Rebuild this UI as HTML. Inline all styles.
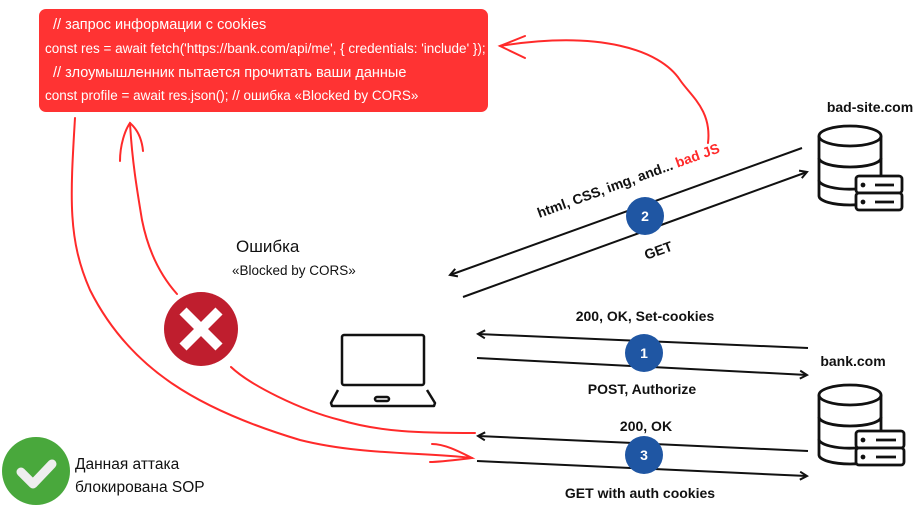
<!DOCTYPE html>
<html><head><meta charset="utf-8"><style>
html,body{margin:0;padding:0;background:#fff;}
svg{display:block;}
text{font-family:"Liberation Sans","Noto Sans CJK SC",sans-serif;}
.b{font-weight:bold;font-size:14px;fill:#111;}
</style></head><body>
<svg width="923" height="512" viewBox="0 0 923 512" xmlns="http://www.w3.org/2000/svg">
<defs>
<marker id="ah" markerWidth="10" markerHeight="10" refX="8" refY="5" orient="auto" markerUnits="userSpaceOnUse">
<path d="M1,1 L8,5 L1,9" fill="none" stroke="#111" stroke-width="2"/>
</marker>
</defs>
<rect x="39" y="9" width="449" height="103" rx="7" fill="#ff3333"/>
<g fill="#fff" font-size="13.5">
<text x="53" y="29" font-size="14.5">// запрос информации с cookies</text>
<text x="45" y="53">const res = await fetch('https://bank.com/api/me', { credentials: 'include' });</text>
<text x="53" y="77" font-size="14.5">// злоумышленник пытается прочитать ваши данные</text>
<text x="45" y="100">const profile = await res.json();  //  ошибка «Blocked by CORS»</text>
</g>
<g fill="none" stroke="#ff2a2a" stroke-width="2" stroke-linecap="round">
<path d="M708,143 C712,110 690,95 680,80 C660,50 600,30 500,46"/>
<path d="M525,36 L500,46 L525,58"/>
<path d="M75,118 C70,200 68,240 90,290 C130,370 200,410 300,440 C360,455 420,452 472,458"/>
<path d="M432,444 C445,444 460,452 472,458 C455,460 440,462 430,462"/>
<path d="M177,294 C160,275 148,250 142,220 C137,190 132,160 130,123"/>
<path d="M120,161 C120,145 125,130 130,123 C138,130 142,140 143,151"/>
<path d="M231,367 C250,385 300,410 340,420 C380,432 420,433 475,433"/>
</g>
<circle cx="201" cy="329" r="37" fill="#bf1e2e"/>
<path d="M183,311 L219,347 M219,311 L183,347" stroke="#fff" stroke-width="10"/>
<circle cx="36" cy="471" r="34" fill="#49a83c"/>
<path d="M21,472 L33,484 L52,464" fill="none" stroke="#eee" stroke-width="9" stroke-linecap="round" stroke-linejoin="round"/>
<text x="236" y="252" font-size="17" fill="#111">Ошибка</text>
<text x="232" y="275" font-size="13.5" fill="#111">«Blocked by CORS»</text>
<text x="75" y="469" font-size="15.5" fill="#111">Данная аттака</text>
<text x="75" y="492" font-size="15.5" fill="#111">блокирована SOP</text>
<g fill="none" stroke="#111" stroke-width="2.5" stroke-linejoin="round">
<rect x="342" y="335" width="82" height="50" rx="2"/>
<path d="M338,390 L331,403 L332,406 L434,406 L435,403 L427,390"/>
<rect x="375" y="397" width="14" height="4" rx="2"/>
</g>
<g fill="#fff" stroke="#111" stroke-width="2.8">
<g>
<path d="M819,136 L819,196 A31,9 0 0 0 881,196 L881,136"/>
<ellipse cx="850" cy="136" rx="31" ry="10"/>
<path d="M819,158 A31,9 0 0 0 881,158 M819,180 A31,9 0 0 0 856,189" fill="none"/>
<rect x="856" y="176" width="46" height="17" rx="3"/>
<rect x="856" y="193" width="46" height="17" rx="3"/>
<path d="M875,185 L894,185 M875,202 L894,202"/>
<circle cx="863" cy="185" r="1" fill="#111"/><circle cx="863" cy="202" r="1" fill="#111"/>
</g>
<g transform="translate(0,259)">
<path d="M819,136 L819,196 A31,9 0 0 0 881,196 L881,136"/>
<ellipse cx="850" cy="136" rx="31" ry="10"/>
<path d="M819,158 A31,9 0 0 0 881,158 M819,180 A31,9 0 0 0 856,189" fill="none"/>
<rect x="856" y="172" width="48" height="17" rx="3"/>
<rect x="856" y="189" width="48" height="17" rx="3"/>
<path d="M876,181 L896,181 M876,198 L896,198"/>
<circle cx="863" cy="181" r="1" fill="#111"/><circle cx="863" cy="198" r="1" fill="#111"/>
</g>
</g>
<text x="870" y="112" text-anchor="middle" class="b" font-size="14.5">bad-site.com</text>
<text x="853" y="366" text-anchor="middle" class="b" font-size="14.5">bank.com</text>
<g stroke="#111" stroke-width="2" fill="none" marker-end="url(#ah)">
<path d="M802,148 L450,275"/>
<path d="M463,297 L807,172"/>
<path d="M808,348 L478,334"/>
<path d="M477,358 L807,375"/>
<path d="M808,451 L478,436"/>
<path d="M477,461 L807,476"/>
</g>
<circle cx="645" cy="216" r="19" fill="#1f56a3"/>
<circle cx="644" cy="353" r="19" fill="#1f56a3"/>
<circle cx="644" cy="455" r="19" fill="#1f56a3"/>
<g fill="#fff" font-weight="bold" font-size="14" text-anchor="middle">
<text x="645" y="221">2</text><text x="644" y="358">1</text><text x="644" y="460">3</text>
</g>
<text transform="translate(630,185) rotate(-20)" text-anchor="middle" class="b"><tspan>html, CSS, img, and... </tspan><tspan fill="#ff2a2a">bad JS</tspan></text>
<text transform="translate(660,255) rotate(-20)" text-anchor="middle" class="b">GET</text>
<text x="645" y="321" text-anchor="middle" class="b">200, OK, Set-cookies</text>
<text x="642" y="394" text-anchor="middle" class="b">POST, Authorize</text>
<text x="646" y="431" text-anchor="middle" class="b">200, OK</text>
<text x="640" y="498" text-anchor="middle" class="b">GET with auth cookies</text>
</svg>
</body></html>
